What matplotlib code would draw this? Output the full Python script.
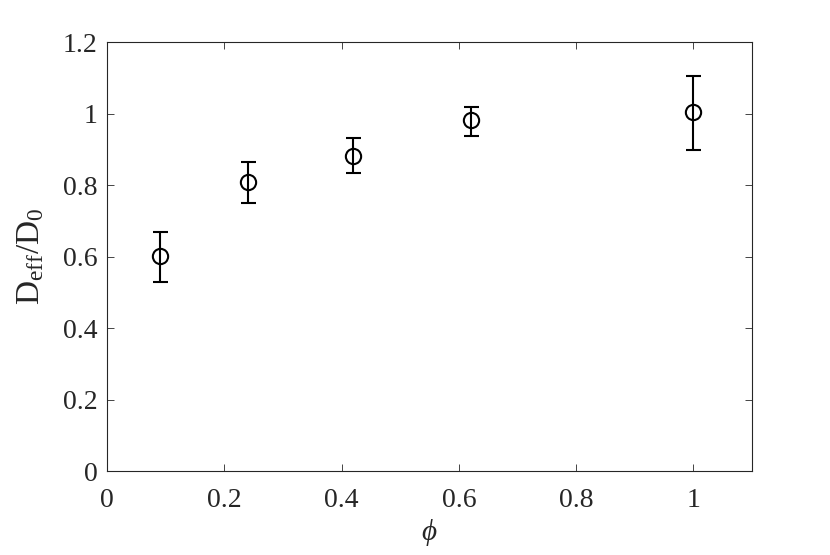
import matplotlib
matplotlib.use('Agg')
import matplotlib.pyplot as plt

# dane
phi = [0.09, 0.24, 0.42, 0.62, 1.0]
d_ratio = [0.601, 0.808, 0.883, 0.981, 1.004]
err_low = [0.072, 0.058, 0.049, 0.044, 0.106]
err_high = [0.067, 0.056, 0.048, 0.037, 0.101]

x_ticks = [0, 0.2, 0.4, 0.6, 0.8, 1]
x_labels = ['0', '0.2', '0.4', '0.6', '0.8', '1']
y_ticks = [0, 0.2, 0.4, 0.6, 0.8, 1, 1.2]
y_labels = ['0', '0.2', '0.4', '0.6', '0.8', '1', '1.2']

serif = 'Liberation Serif'
plt.rcParams['font.family'] = 'serif'
plt.rcParams['font.serif'] = [serif]
plt.rcParams['mathtext.fontset'] = 'custom'
plt.rcParams['mathtext.rm'] = serif
plt.rcParams['mathtext.it'] = serif + ':italic'

fig = plt.figure(figsize=(8.3, 5.55), dpi=100)
ax = fig.add_axes([0.129, 0.151, 0.777, 0.773])

ax.errorbar(phi, d_ratio, yerr=[err_low, err_high], fmt='o', color='black',
            markerfacecolor='none', markersize=11, markeredgewidth=1.5,
            elinewidth=1.5, capsize=5.4, capthick=1.5)

ax.set_xlim(0, 1.1)
ax.set_ylim(0, 1.2)
ax.set_xticks(x_ticks)
ax.set_xticklabels(x_labels, family=serif, fontsize=20)
ax.set_yticks(y_ticks)
ax.set_yticklabels(y_labels, family=serif, fontsize=20)
ax.tick_params(direction='in', top=True, right=True,
               length=5, width=0.6, colors='#262626', labelcolor='#262626')
ax.tick_params(axis='x', pad=12)
ax.tick_params(axis='y', pad=7)
for s in ax.spines.values():
    s.set_linewidth(0.8)
    s.set_color('#262626')

ax.set_xlabel(r'$\phi$', fontsize=21, color='#262626', labelpad=3)
ax.set_ylabel(r'$\mathrm{D_{eff}/D_0}$', fontsize=24, color='#262626', labelpad=12)

plt.savefig('out.png', dpi=100)
